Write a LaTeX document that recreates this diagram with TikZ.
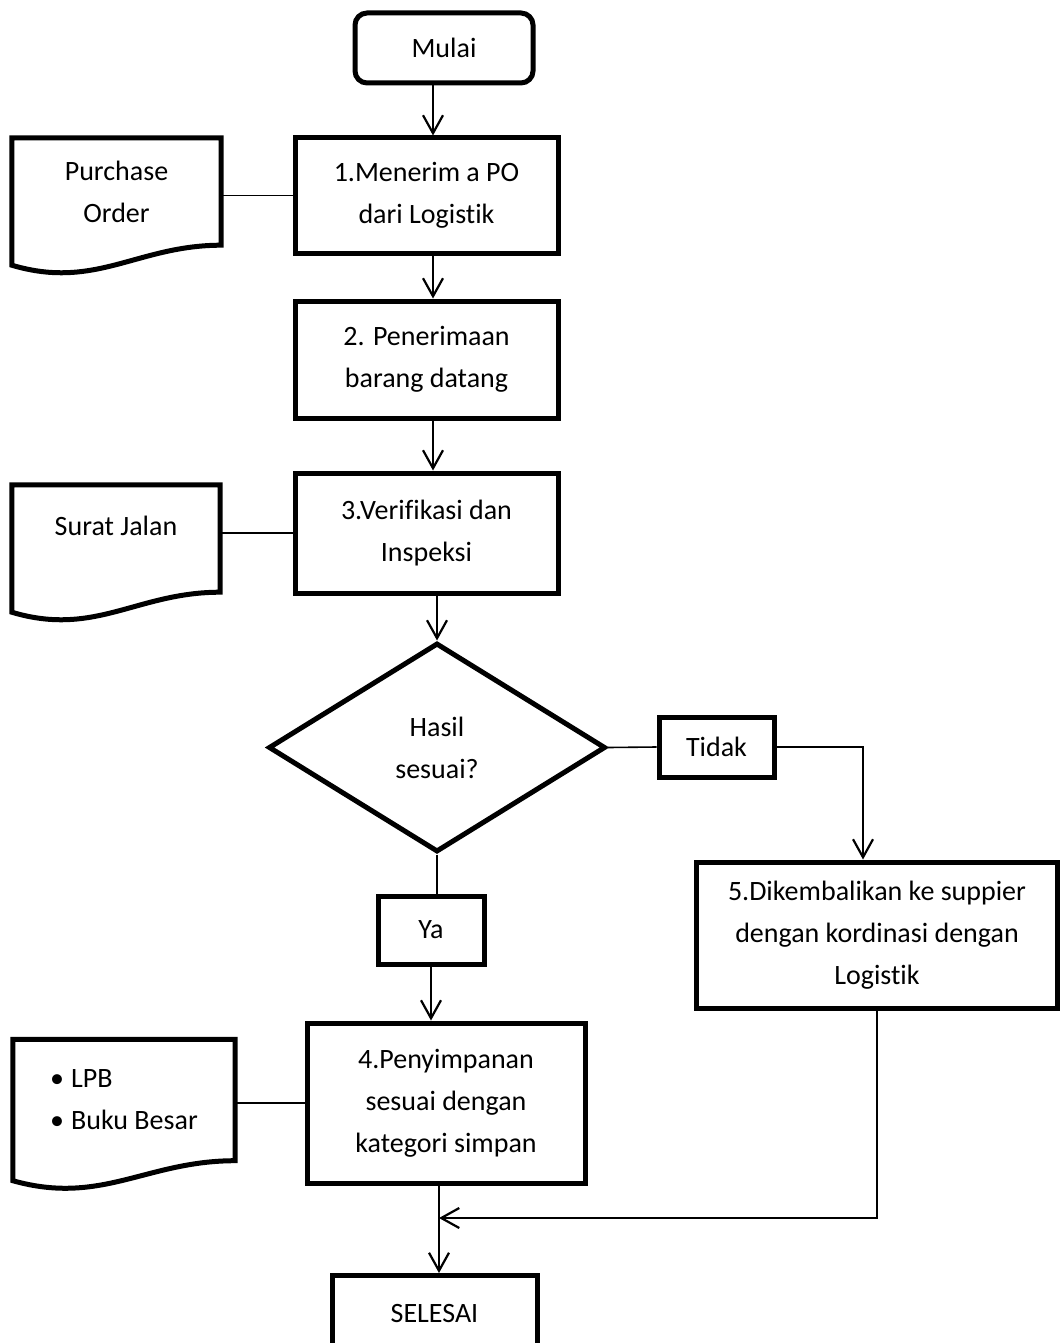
\documentclass[tikz,border=0pt]{standalone}
\usepackage{fontspec}
\setmainfont{Carlito}[Ligatures=NoCommon]
\usetikzlibrary{arrows.meta,calc,shapes.geometric}

% document symbol: rectangle with a wavy bottom, drawn round a named node
\newcommand{\docwave}[1]{%
  \draw[docline] (#1.north west) -- (#1.north east) -- (#1.south east)
    .. controls ($(#1.south east)!0.4!(#1.south west)$) and ($(#1.south east)!0.6!(#1.south west)+(0,45)$)
    .. ($(#1.south west)+(0,20)$) -- cycle;}

\tikzset{
  proc/.style={draw, rectangle, line width=5pt, align=center, inner sep=0pt},
  startbox/.style={proc, rounded corners=12pt},
  decide/.style={draw, diamond, line width=5pt, align=center, inner sep=0pt},
  docbox/.style={rectangle, inner sep=0pt},
  docline/.style={line width=5pt},
  arr/.style={line width=2.2pt, -{Straight Barb[length=18pt,width=20pt]}},
  link/.style={line width=1.6pt}
}

\begin{document}
\begin{tikzpicture}[x=1pt,y=-1pt,font=\fontsize{28}{42}\selectfont]
\useasboundingbox (0,0) rectangle (1061,1343);

% main column
\node[startbox, minimum width=178pt, minimum height=70pt] (start) at (444,48) {Mulai};
\node[proc, minimum width=263pt, minimum height=115pt] (b1) at (426.5,195.5) {1.Menerim a PO\\dari Logistik};
\node[proc, minimum width=263pt, minimum height=117pt] (b2) at (426.5,359.5) {2. Penerimaan\\barang datang};
\node[proc, minimum width=263pt, minimum height=120pt] (b3) at (426.5,533) {3.Verifikasi dan\\Inspeksi};
\node[decide, minimum width=337pt, minimum height=209pt] (dia) at (437,747.5) {Hasil\\sesuai?};
\node[proc, minimum width=115pt, minimum height=60pt] (tidak) at (716.5,747) {Tidak};
\node[proc, minimum width=106pt, minimum height=68pt] (ya) at (431,930) {Ya};
\node[proc, minimum width=361pt, minimum height=146pt] (b5) at (877,935) {5.Dikembalikan ke suppier\\dengan kordinasi dengan\\Logistik};
\node[proc, minimum width=278pt, minimum height=160pt] (b4) at (446,1103) {4.Penyimpanan\\sesuai dengan\\kategori simpan};
\node[proc, anchor=north, minimum width=205pt, minimum height=76pt] (fin) at (434.5,1273) {SELESAI};

% documents
\node[docbox, minimum width=209pt, minimum height=107pt, align=center] (po) at (116.5,191.5) {Purchase\\Order};
\node[docbox, minimum width=208pt, minimum height=107pt, text height=21pt, text depth=27pt] (sj) at (116,538.5) {Surat Jalan};
\node[docbox, minimum width=222pt, minimum height=121pt, align=left] (lpb) at (124,1100) {\textbullet\hspace{7pt}LPB\\\textbullet\hspace{7pt}Buku Besar};
\docwave{po}
\docwave{sj}
\docwave{lpb}

% connectors
\coordinate (col) at (433,0);
\coordinate (down5) at (863,0);
\coordinate (merge) at (439,1218);
\draw[arr] (start.south -| col) -- (b1.north -| col);
\draw[arr] (b1.south -| col) -- (b2.north -| col);
\draw[arr] (b2.south -| col) -- (b3.north -| col);
\draw[arr] (b3.south -| dia.north) -- (dia.north);
\draw[link] (dia.south) -- (dia.south |- ya.north);
\draw[arr] (ya.south) -- (ya.south |- b4.north);
\draw[link] (dia.east) -- (tidak.west);
\draw[arr] (tidak.east) -| (b5.north -| down5);
\draw[arr] (b5.south) |- (merge);
\draw[arr] (b4.south -| merge) -- (fin.north -| merge);
\draw[link] (po.east |- b1.west) -- (b1.west);
\draw[link] (sj.east |- b3.west) -- (b3.west);
\draw[link] (lpb.east |- b4.west) -- (b4.west);
\end{tikzpicture}
\end{document}
